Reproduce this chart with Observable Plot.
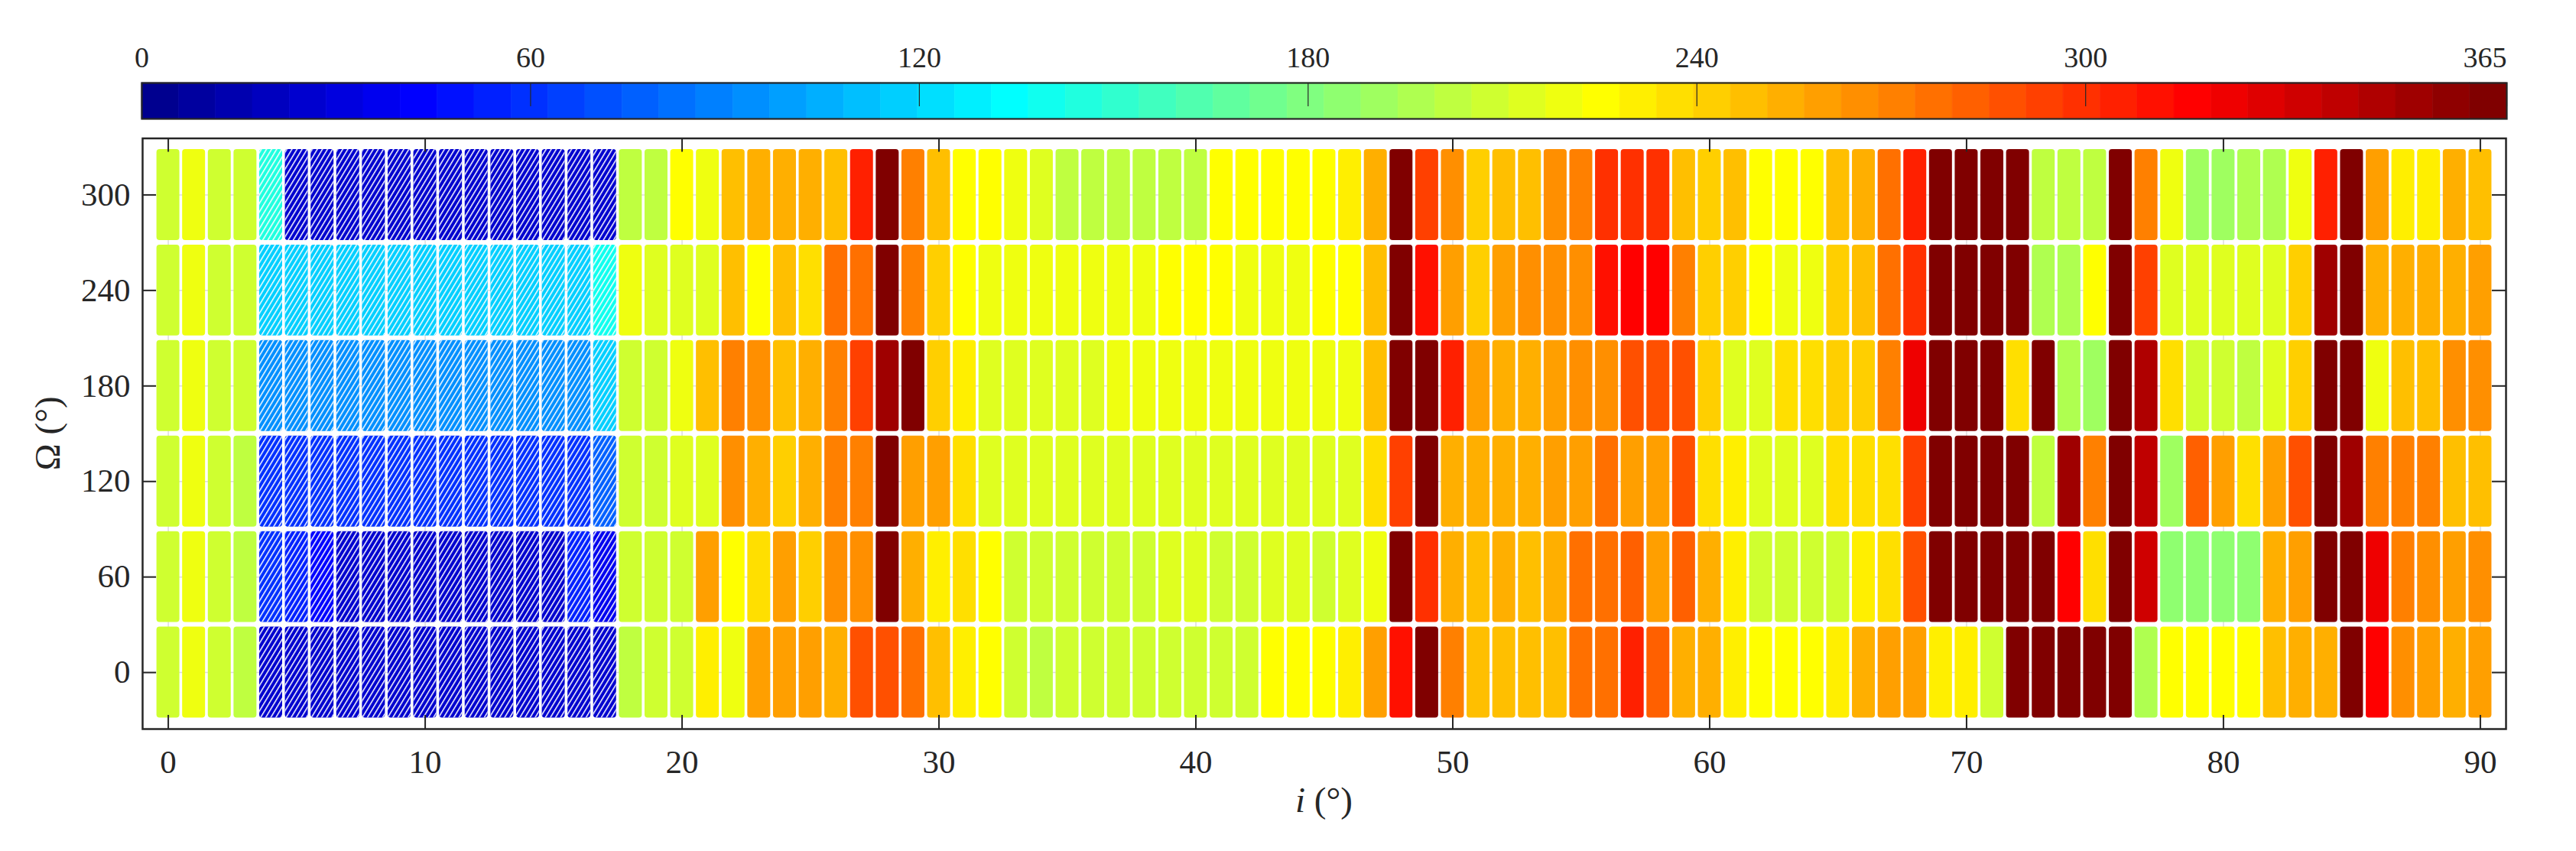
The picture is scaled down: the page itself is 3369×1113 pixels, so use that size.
<!DOCTYPE html>
<html>
<head>
<meta charset="utf-8">
<script src="https://cdn.jsdelivr.net/npm/d3@7"></script>
<script src="https://cdn.jsdelivr.net/npm/@observablehq/plot@0.6"></script>
<style>
  html, body { margin: 0; padding: 0; background: #fff; }
  body { width: 3369px; height: 1113px; overflow: hidden; font-family: "Liberation Serif", "Times New Roman", serif; }
  #chart svg { display: block; }
</style>
</head>
<body>
<svg width="0" height="0" style="position:absolute">
  <defs>
    <pattern id="hatch" patternUnits="userSpaceOnUse" width="5.7" height="20" patternTransform="rotate(31)">
      <rect x="0" y="0" width="1.5" height="20" fill="#ffffff"></rect>
    </pattern>
  </defs>
</svg>
<div id="chart"></div>
<script>
// ---------------- data ----------------
const inclinations = d3.range(0, 91);           // i (deg), one column per degree
const omegas = [0, 60, 120, 180, 240, 300];     // Ω (deg), one row each
const hatchedInclinations = [4, 5, 6, 7, 8, 9, 10, 11, 12, 13, 14, 15, 16, 17];
const xTicks = [0, 10, 20, 30, 40, 50, 60, 70, 80, 90];
const yTicks = [0, 60, 120, 180, 240, 300];
const colorbarTicks = [0, 60, 120, 180, 240, 300, 365];
const colorMax = 365;

// values per Ω row, indexed by i = 0..90
const omega0 = [
208,220,208,202,26,26,26,26,26,26,
26,26,26,26,26,26,26,26,202,208,
208,231,220,260,260,260,254,288,288,277,
248,231,225,208,202,208,208,208,208,208,
208,208,208,225,225,225,231,260,311,365,
271,248,248,248,248,277,277,305,282,254,
254,231,225,225,225,231,254,260,260,231,
231,208,365,365,365,365,365,197,225,225,
225,225,248,254,254,365,316,265,260,254,
260];
const omega60 = [
208,220,208,202,60,54,43,26,26,26,
26,26,26,26,26,26,54,37,208,208,
208,260,225,237,260,242,265,265,365,254,
231,237,225,208,208,208,208,208,208,214,
214,208,208,214,214,208,214,220,365,299,
254,248,254,248,254,277,277,282,260,282,
254,231,208,208,208,208,231,237,288,365,
365,365,365,365,316,237,365,334,185,185,
185,185,254,260,365,365,322,271,265,260,
265];
const omega120 = [
208,220,208,202,60,60,60,60,60,60,
60,60,60,60,60,60,60,77,208,208,
214,214,265,254,242,254,271,271,365,260,
260,237,214,214,214,214,214,214,214,214,
214,214,214,214,214,214,214,237,294,365,
254,254,254,254,260,260,277,260,260,288,
237,231,214,214,214,237,237,237,294,365,
365,365,365,202,351,271,365,339,191,282,
260,237,260,288,365,351,271,271,271,248,
248];
const omega180 = [
208,220,208,208,94,94,94,94,94,94,
94,94,94,94,94,94,94,117,208,208,
220,248,271,265,248,254,271,294,351,365,
242,231,214,214,214,214,214,220,220,220,
220,220,220,220,220,220,220,248,365,365,
305,260,254,254,260,265,265,288,288,288,
242,214,214,237,237,242,242,271,322,365,
365,365,237,365,197,191,365,345,237,208,
208,202,214,242,365,365,220,248,248,265,
265];
const omega240 = [
208,220,208,208,117,117,117,117,117,117,
117,117,117,117,117,117,117,140,220,214,
214,214,248,225,248,237,277,277,365,271,
242,225,220,220,220,220,220,220,220,225,
225,225,220,220,220,225,225,248,365,311,
260,242,260,265,265,265,311,316,316,271,
242,242,225,220,220,242,248,277,299,365,
365,365,365,197,197,225,365,294,214,214,
214,214,214,242,351,365,254,254,254,254,
260];
const omega300 = [
208,220,208,208,145,26,26,26,26,26,
26,26,26,26,26,26,26,26,202,202,
225,220,248,254,254,254,248,305,365,271,
248,225,225,220,214,202,202,202,202,202,
202,225,225,225,225,225,231,254,365,294,
265,242,248,248,265,271,299,299,299,248,
242,248,225,225,225,248,254,277,305,365,
365,365,365,202,202,202,365,271,220,191,
191,197,197,220,305,365,260,231,231,254,
248];

const rows = [omega0, omega60, omega120, omega180, omega240, omega300];
const cells = omegas.flatMap((om, r) => inclinations.map((inc, c) => ({i: inc, omega: om, value: rows[r][c]})));
const hatchedCells = cells.filter(d => hatchedInclinations.includes(d.i));

// ---------------- MATLAB jet(64) colormap ----------------
const jet64 = d3.range(1, 65).map(k => {
  const R = k <= 24 ? 0 : k <= 40 ? (k - 24) / 16 : k <= 56 ? 1 : 1 - (k - 56) / 16;
  const G = k <= 8 ? 0 : k <= 24 ? (k - 8) / 16 : k <= 40 ? 1 : k <= 56 ? 1 - (k - 40) / 16 : 0;
  const B = k <= 8 ? (k + 8) / 16 : k <= 24 ? 1 : k <= 40 ? 1 - (k - 24) / 16 : 0;
  return d3.rgb(Math.round(R * 255), Math.round(G * 255), Math.round(B * 255)).formatHex();
});
const colorScale = {type: "threshold", domain: d3.range(1, 64).map(k => k * colorMax / 64), range: jet64};

const W = 3369;
const ink = "#262626";
const serif = "'Liberation Serif', 'Times New Roman', serif";
const style = {fontFamily: serif, fontSize: "38px", color: ink, background: "white"};

// ---------------- colorbar ----------------
const bins = d3.range(64).map(k => ({x1: k * colorMax / 64, x2: (k + 1) * colorMax / 64, v: (k + 0.5) * colorMax / 64}));
const cb = Plot.plot({
  width: W, height: 165,
  marginLeft: 185, marginRight: 91, marginTop: 108, marginBottom: 10,
  x: {domain: [0, colorMax]},
  color: colorScale,
  style,
  marks: [
    Plot.rect(bins, {x1: "x1", x2: "x2", fill: "v", stroke: "v", strokeWidth: 0.6}),
    Plot.tickX(colorbarTicks, {x: d => d, stroke: ink, strokeWidth: 1.2, insetBottom: 16}),
    Plot.frame({stroke: ink, strokeWidth: 2.2}),
    Plot.axisX(colorbarTicks.slice(0, -1), {anchor: "top", tickSize: 0, tickPadding: 21, fontSize: 38, fill: ink, label: null}),
    Plot.axisX(colorbarTicks.slice(-1), {anchor: "top", tickSize: 0, tickPadding: 21, fontSize: 38, fill: ink, label: null, textAnchor: "end"})
  ]
});

// ---------------- main heat map ----------------
const mTop = 15.5, mBottom = 160, H = 948;
const frameH = H - mTop - mBottom;
const mLeft = 186, mRight = 92;
const frameW = W - mLeft - mRight;
const cellOpts = {
  x1: d => d.i - 0.5, x2: d => d.i + 0.5,
  y1: d => d.omega - 30, y2: d => d.omega + 30,
  insetLeft: 1.8, insetRight: 1.8, insetTop: 3, insetBottom: 3, rx: 4
};
const main = Plot.plot({
  width: W, height: H,
  marginLeft: mLeft, marginRight: mRight, marginTop: mTop, marginBottom: mBottom,
  x: {domain: [-1, 91]},
  y: {domain: [-35.5, 335.5]},
  color: colorScale,
  style,
  marks: [
    Plot.gridX(xTicks, {stroke: "#dcdcdc", strokeOpacity: 1, strokeWidth: 1.5}),
    Plot.gridY(yTicks, {stroke: "#dcdcdc", strokeOpacity: 1, strokeWidth: 1.5}),
    Plot.rect(cells, {...cellOpts, fill: "value"}),
    Plot.rect(hatchedCells, {...cellOpts, fill: "url(#hatch)"}),
    Plot.tickX(xTicks, {x: d => d, stroke: ink, strokeWidth: 2, insetTop: frameH - 18}),
    Plot.tickX(xTicks, {x: d => d, stroke: ink, strokeWidth: 2, insetBottom: frameH - 18}),
    Plot.tickY(yTicks, {y: d => d, stroke: ink, strokeWidth: 2, insetRight: frameW - 18}),
    Plot.tickY(yTicks, {y: d => d, stroke: ink, strokeWidth: 2, insetLeft: frameW - 18}),
    Plot.frame({stroke: ink, strokeWidth: 2.5}),
    Plot.axisX(xTicks, {anchor: "bottom", tickSize: 0, tickPadding: 27, fontSize: 43, fill: ink, label: null}),
    Plot.axisY(yTicks, {anchor: "left", tickSize: 0, tickPadding: 16, fontSize: 43, fill: ink, label: null})
  ]
});

// axis titles (LaTeX-like: italic i, upright Ω)
const ns = "http://www.w3.org/2000/svg";
function addLabel(svg, parts, attrs) {
  const t = document.createElementNS(ns, "text");
  for (const [k, v] of Object.entries(attrs)) t.setAttribute(k, v);
  for (const p of parts) {
    const s = document.createElementNS(ns, "tspan");
    s.textContent = p.text;
    if (p.italic) s.setAttribute("font-style", "italic");
    t.appendChild(s);
  }
  svg.appendChild(t);
}
const common = {"font-family": serif, "font-size": 47, fill: ink, "text-anchor": "middle"};
addLabel(main, [{text: "i", italic: true}, {text: " (°)"}], {...common, x: mLeft + frameW / 2, y: H - mBottom + 109});
const yc = mTop + frameH / 2;
addLabel(main, [{text: "Ω (°)"}], {...common, x: 78, y: yc, transform: `rotate(-90, 78, ${yc})`});

const root = document.getElementById("chart");
root.appendChild(cb);
root.appendChild(main);
</script>
</body>
</html>
